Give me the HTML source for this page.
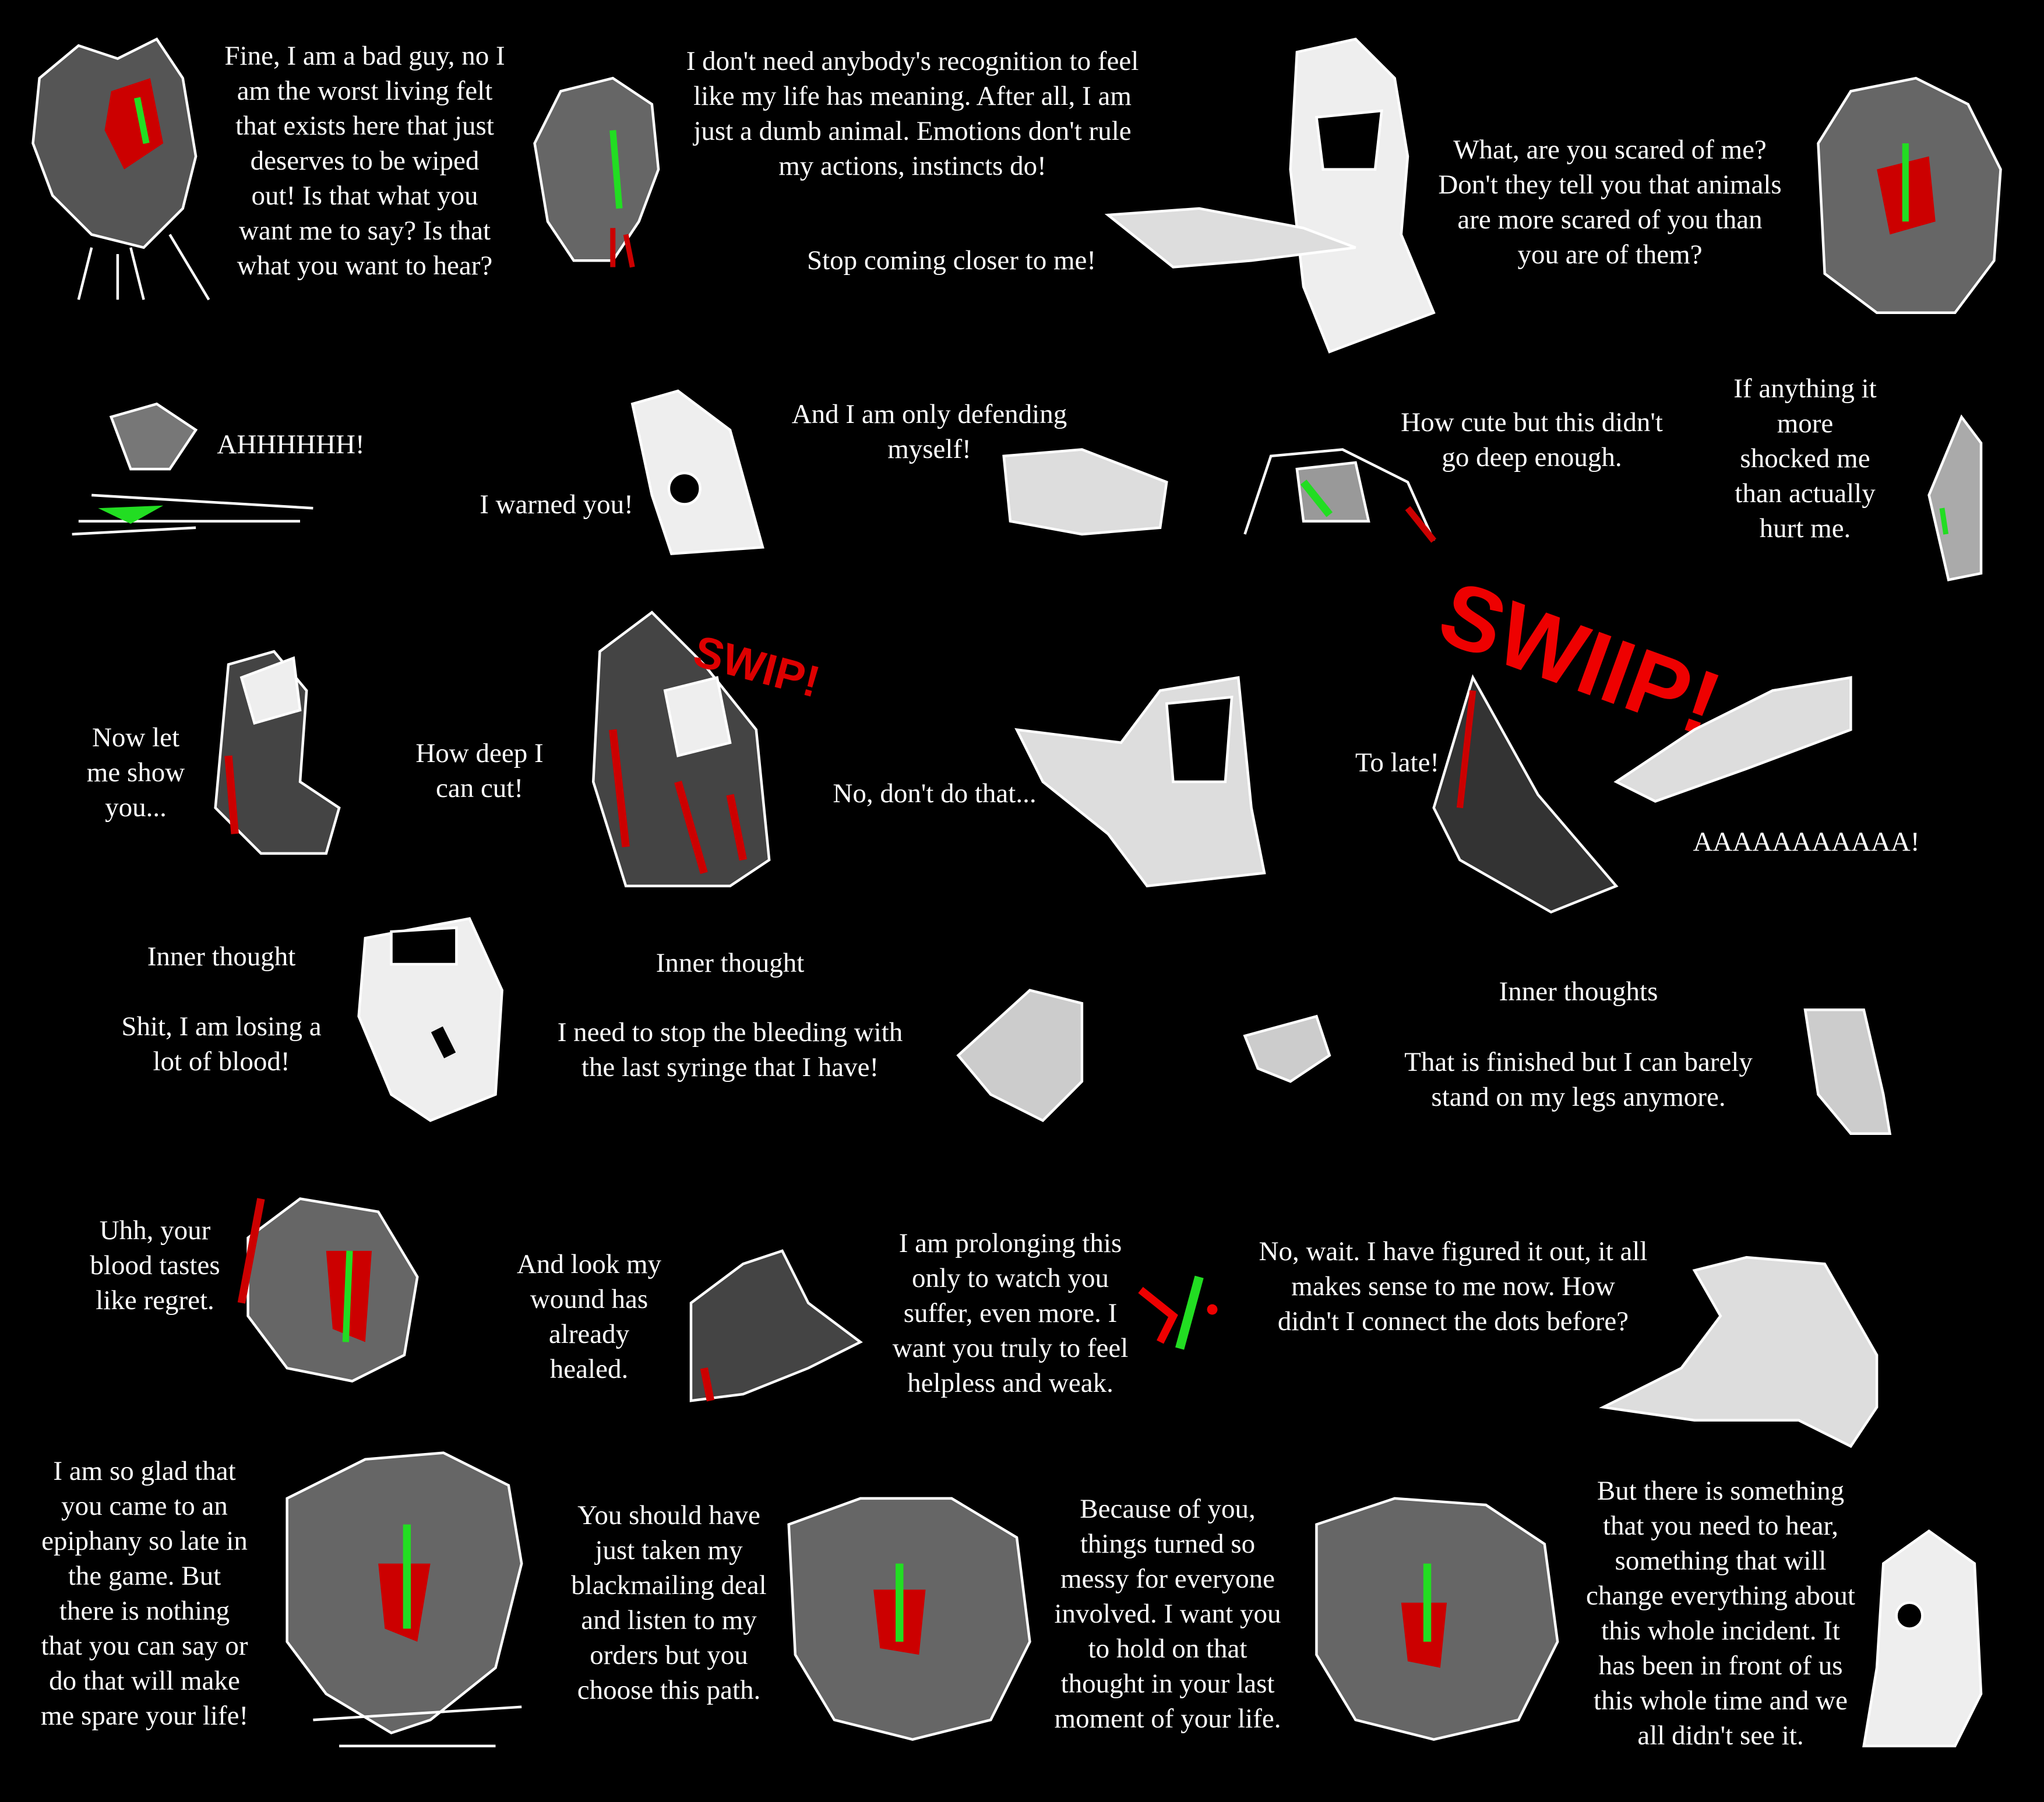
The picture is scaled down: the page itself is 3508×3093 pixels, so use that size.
<!DOCTYPE html>
<html><head><meta charset="utf-8"><style>
html,body{margin:0;padding:0;background:#000;}
#c{position:relative;width:3508px;height:3093px;background:#000;overflow:hidden;}
svg{position:absolute;left:0;top:0;}
.t{position:absolute;color:#fff;font-family:"Liberation Serif",serif;font-size:47px;line-height:60px;text-align:center;white-space:nowrap;transform:translateX(-50%);}
</style></head><body><div id="c">
<svg width="3508" height="3093" viewBox="0 0 1568 1383">
<g fill="none" stroke="#fff" stroke-width="2">
<g><path d="M30 60 L60 35 L90 45 L120 30 L140 60 L150 120 L140 160 L110 190 L70 180 L40 150 L25 110 Z" fill="#555"/>
<path d="M70 190 L60 230 M100 190 L110 230 M130 180 L160 230 M90 195 L90 230"/>
<path d="M85 70 L115 60 L125 110 L95 130 L80 100 Z" fill="#c00" stroke="none"/>
<path d="M105 75 L112 110" stroke="#2d2" stroke-width="5"/></g>
<g><path d="M410 110 L430 70 L470 60 L500 80 L505 130 L490 170 L470 200 L440 200 L420 170 Z" fill="#666"/>
<path d="M480 180 L485 205 M470 175 L470 205" stroke="#c00" stroke-width="4"/>
<path d="M470 100 L475 160" stroke="#2d2" stroke-width="5"/></g>
<g><path d="M995 40 L1040 30 L1070 60 L1080 120 L1075 180 L1100 240 L1020 270 L1000 220 L990 130 Z" fill="#eee" stroke="#fff"/>
<path d="M850 165 L920 160 L1000 175 L1040 190 L960 200 L900 205 Z" fill="#ddd"/>
<path d="M1010 90 L1060 85 L1055 130 L1015 130 Z" fill="#000" stroke="#fff"/></g>
<g><path d="M1395 110 L1420 70 L1470 60 L1510 80 L1535 130 L1530 200 L1500 240 L1440 240 L1400 210 Z" fill="#666"/>
<path d="M1440 130 L1480 120 L1485 170 L1450 180 Z" fill="#c00" stroke="none"/>
<path d="M1462 110 L1462 170" stroke="#2d2" stroke-width="5"/></g>
<g><path d="M85 320 L120 310 L150 330 L130 360 L100 360 Z" fill="#777"/>
<path d="M70 380 L240 390 M60 400 L230 400 M55 410 L150 405"/>
<path d="M75 390 L125 388 L100 402 Z" fill="#2d2" stroke="none"/></g>
<g><path d="M485 310 L520 300 L560 330 L585 420 L515 425 L500 380 Z" fill="#eee"/>
<circle cx="525" cy="375" r="12" fill="#000"/></g>
<g><path d="M770 350 L830 345 L895 370 L890 405 L830 410 L775 400 Z" fill="#ddd"/></g>
<g><path d="M955 410 L975 350 L1030 345 L1080 370 L1100 415" /><path d="M995 360 L1040 355 L1050 400 L1000 400 Z" fill="#999"/>
<path d="M1000 370 L1020 395" stroke="#2d2" stroke-width="6"/><path d="M1080 390 L1100 415" stroke="#c00" stroke-width="5"/></g>
<g><path d="M1480 380 L1505 320 L1520 340 L1520 440 L1495 445 Z" fill="#aaa"/><path d="M1490 390 L1493 410" stroke="#2d2" stroke-width="4"/></g>
<g><path d="M175 510 L210 500 L235 530 L230 600 L260 620 L250 655 L200 655 L165 620 Z" fill="#444"/><path d="M175 580 L180 640" stroke="#c00" stroke-width="6"/><path d="M185 520 L225 505 L230 545 L195 555 Z" fill="#eee"/></g>
<g><path d="M460 500 L500 470 L540 510 L580 560 L590 660 L560 680 L480 680 L455 600 Z" fill="#444"/><path d="M510 530 L550 520 L560 570 L520 580 Z" fill="#eee"/><path d="M470 560 L480 650 M520 600 L540 670 M560 610 L570 660" stroke="#c00" stroke-width="6"/>
<text x="530" y="510" fill="#d00" stroke="none" font-size="34" font-family="Liberation Sans" font-weight="bold" transform="rotate(15 530 510)">SWIP!</text></g>
<g><path d="M780 560 L860 570 L890 530 L950 520 L960 620 L970 670 L880 680 L850 640 L800 600 Z" fill="#ddd"/><path d="M895 540 L945 535 L940 600 L900 600 Z" fill="#000" stroke="#fff"/></g>
<g><path d="M1100 620 L1130 520 L1180 610 L1240 680 L1190 700 L1120 660 Z" fill="#333"/><path d="M1130 530 L1120 620" stroke="#c00" stroke-width="5"/>
<text x="1100" y="490" fill="#e00" stroke="none" font-size="70" font-family="Liberation Sans" font-weight="bold" transform="rotate(20 1100 490)">SWIIP!</text>
<path d="M1240 600 L1300 560 L1360 530 L1420 520 L1420 560 L1340 590 L1270 615 Z" fill="#ddd"/></g>
<g><path d="M280 720 L360 705 L385 760 L380 840 L330 860 L300 840 L275 780 Z" fill="#eee"/><path d="M300 715 L350 712 L350 740 L300 740 Z" fill="#000" stroke="#fff"/><path d="M335 790 L345 810" stroke="#000" stroke-width="10"/></g>
<g><path d="M735 810 L790 760 L830 770 L830 830 L800 860 L760 840 Z" fill="#ccc"/></g>
<g><path d="M955 795 L1010 780 L1020 810 L990 830 L965 820 Z" fill="#ccc"/></g>
<g><path d="M1385 775 L1430 775 L1445 840 L1450 870 L1420 870 L1395 840 Z" fill="#ccc"/></g>
<g><path d="M190 950 L230 920 L290 930 L320 980 L310 1040 L270 1060 L220 1050 L190 1010 Z" fill="#666"/><path d="M250 960 L285 960 L280 1030 L255 1020 Z" fill="#c00" stroke="none"/><path d="M268 960 L265 1030" stroke="#2d2" stroke-width="5"/><path d="M200 920 L185 1000" stroke="#c00" stroke-width="6"/></g>
<g><path d="M530 1000 L570 970 L600 960 L620 1000 L660 1030 L620 1050 L570 1070 L530 1075 Z" fill="#444"/><path d="M540 1050 L545 1075" stroke="#c00" stroke-width="6"/></g>
<g><path d="M875 990 L900 1010 L890 1030" stroke="#e00" stroke-width="6"/><path d="M905 1035 L920 980" stroke="#2d2" stroke-width="7"/><circle cx="930" cy="1005" r="4" fill="#e00" stroke="none"/></g>
<g><path d="M1230 1080 L1290 1050 L1320 1010 L1300 975 L1340 965 L1400 970 L1440 1040 L1440 1080 L1420 1110 L1380 1090 L1300 1090 Z" fill="#ddd"/></g>
<g><path d="M220 1150 L280 1120 L340 1115 L390 1140 L400 1200 L380 1280 L330 1320 L300 1330 L250 1300 L220 1260 Z" fill="#666"/><path d="M290 1200 L330 1200 L320 1260 L295 1250 Z" fill="#c00" stroke="none"/><path d="M312 1170 L312 1250" stroke="#2d2" stroke-width="6"/><path d="M240 1320 L400 1310 M260 1340 L380 1340"/></g>
<g><path d="M605 1170 L660 1150 L730 1150 L780 1180 L790 1260 L760 1320 L700 1335 L640 1320 L610 1270 Z" fill="#666"/><path d="M670 1220 L710 1220 L705 1270 L675 1265 Z" fill="#c00" stroke="none"/><path d="M690 1200 L690 1260" stroke="#2d2" stroke-width="6"/></g>
<g><path d="M1010 1170 L1070 1150 L1140 1155 L1185 1185 L1195 1260 L1165 1320 L1100 1335 L1040 1320 L1010 1270 Z" fill="#666"/><path d="M1075 1230 L1110 1230 L1105 1280 L1080 1275 Z" fill="#c00" stroke="none"/><path d="M1095 1200 L1095 1260" stroke="#2d2" stroke-width="6"/></g>
<g><path d="M1445 1200 L1480 1175 L1515 1200 L1520 1300 L1500 1340 L1430 1340 L1440 1280 Z" fill="#eee"/><circle cx="1465" cy="1240" r="10" fill="#000"/></g>
</g>
</svg>
<div class="t" style="left:626px;top:66px">Fine, I am a bad guy, no I<br>am the worst living felt<br>that exists here that just<br>deserves to be wiped<br>out! Is that what you<br>want me to say? Is that<br>what you want to hear?</div>
<div class="t" style="left:1566px;top:75px">I don't need anybody's recognition to feel<br>like my life has meaning. After all, I am<br>just a dumb animal. Emotions don't rule<br>my actions, instincts do!</div>
<div class="t" style="left:1633px;top:417px">Stop coming closer to me!</div>
<div class="t" style="left:2763px;top:227px">What, are you scared of me?<br>Don't they tell you that animals<br>are more scared of you than<br>you are of them?</div>
<div class="t" style="left:499px;top:733px">AHHHHHH!</div>
<div class="t" style="left:955px;top:836px">I warned you!</div>
<div class="t" style="left:1595px;top:681px">And I am only defending<br>myself!</div>
<div class="t" style="left:2629px;top:695px">How cute but this didn't<br>go deep enough.</div>
<div class="t" style="left:3098px;top:637px">If anything it<br>more<br>shocked me<br>than actually<br>hurt me.</div>
<div class="t" style="left:233px;top:1236px">Now let<br>me show<br>you...</div>
<div class="t" style="left:823px;top:1263px">How deep I<br>can cut!</div>
<div class="t" style="left:1604px;top:1332px">No, don't do that...</div>
<div class="t" style="left:2398px;top:1279px">To late!</div>
<div class="t" style="left:3100px;top:1415px">AAAAAAAAAAA!</div>
<div class="t" style="left:380px;top:1612px">Inner thought</div>
<div class="t" style="left:380px;top:1732px">Shit, I am losing a<br>lot of blood!</div>
<div class="t" style="left:1253px;top:1623px">Inner thought</div>
<div class="t" style="left:1253px;top:1742px">I need to stop the bleeding with<br>the last syringe that I have!</div>
<div class="t" style="left:2709px;top:1672px">Inner thoughts</div>
<div class="t" style="left:2709px;top:1793px">That is finished but I can barely<br>stand on my legs anymore.</div>
<div class="t" style="left:266px;top:2082px">Uhh, your<br>blood tastes<br>like regret.</div>
<div class="t" style="left:1011px;top:2140px">And look my<br>wound has<br>already<br>healed.</div>
<div class="t" style="left:1734px;top:2104px">I am prolonging this<br>only to watch you<br>suffer, even more. I<br>want you truly to feel<br>helpless and weak.</div>
<div class="t" style="left:2494px;top:2118px">No, wait. I have figured it out, it all<br>makes sense to me now. How<br>didn't I connect the dots before?</div>
<div class="t" style="left:248px;top:2495px">I am so glad that<br>you came to an<br>epiphany so late in<br>the game. But<br>there is nothing<br>that you can say or<br>do that will make<br>me spare your life!</div>
<div class="t" style="left:1148px;top:2571px">You should have<br>just taken my<br>blackmailing deal<br>and listen to my<br>orders but you<br>choose this path.</div>
<div class="t" style="left:2004px;top:2560px">Because of you,<br>things turned so<br>messy for everyone<br>involved. I want you<br>to hold on that<br>thought in your last<br>moment of your life.</div>
<div class="t" style="left:2953px;top:2529px">But there is something<br>that you need to hear,<br>something that will<br>change everything about<br>this whole incident. It<br>has been in front of us<br>this whole time and we<br>all didn't see it.</div>
</div></body></html>
